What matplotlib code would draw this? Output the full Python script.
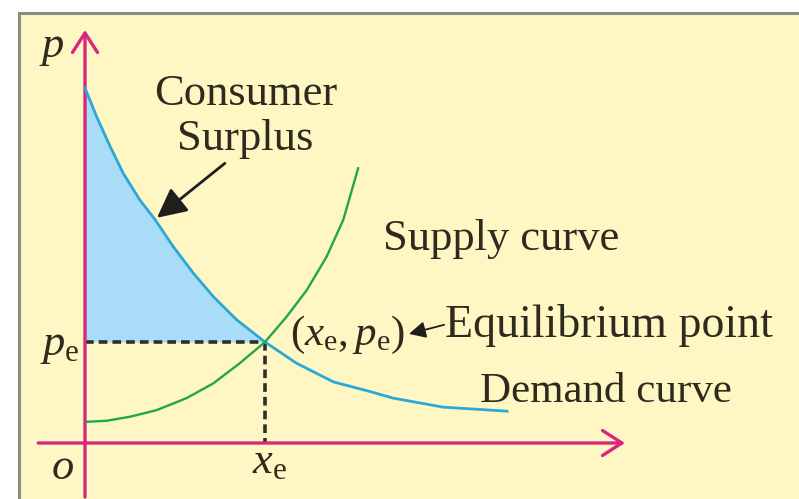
import matplotlib
matplotlib.use("Agg")
import matplotlib.pyplot as plt
from matplotlib.patches import Rectangle

plt.rcParams["font.family"] = ["Liberation Serif", "DejaVu Serif"]
plt.rcParams["mathtext.fontset"] = "custom"
plt.rcParams["mathtext.rm"] = "Liberation Serif"
plt.rcParams["mathtext.it"] = "Liberation Serif:italic"

# demand / supply curves (x = quantity, p = price)
demand_x = [0.0, 0.26, 0.56, 0.85, 1.22, 1.56, 1.96, 2.41, 2.85, 3.37, 4.0,
            4.70, 5.52, 6.33, 6.84, 7.96, 8.67, 9.38]
demand_p = [7.03, 6.46, 5.87, 5.34, 4.81, 4.42, 3.89, 3.36, 2.90, 2.44, 2.0,
            1.58, 1.21, 1.02, 0.89, 0.71, 0.67, 0.63]
supply_x = [0.04, 0.48, 1.0, 1.59, 2.26, 2.85, 3.44, 4.0, 4.48, 4.93, 5.37,
            5.74, 6.07]
supply_p = [0.42, 0.44, 0.52, 0.65, 0.89, 1.18, 1.58, 2.0, 2.50, 3.03, 3.69,
            4.42, 5.44]
x_e = 4.0
p_e = 2.0

bg = "#fef7c4"
ink = "#2e2b1e"
axis_col = "#d8287e"
blue = "#2aa8d8"
green = "#22a64c"

fig = plt.figure(figsize=(7.99, 4.99), dpi=100, facecolor="white")

ax = fig.add_axes([0, 0, 1, 1])
ax.set_xlim(-85 / 45, 714 / 45)
ax.set_ylim(-56 / 50.5, 443 / 50.5)
ax.axis("off")

# yellow panel with grey frame (right/bottom run off the image)
ax.add_patch(Rectangle((19 / 799, -0.05), 1.1, 1.05 - 13 / 499,
                       transform=fig.transFigure, facecolor=bg,
                       edgecolor="#8c8c82", lw=2.2, zorder=0, clip_on=False))

# axes with open arrow heads
arrow = dict(arrowstyle="->,head_length=0.7,head_width=0.45", color=axis_col,
             lw=2.4, mutation_scale=20, shrinkA=0, shrinkB=0)
ax.annotate("", xy=(0, 8.18), xytext=(0, -1.07), arrowprops=arrow)
ax.annotate("", xy=(12.0, 0), xytext=(-1.04, 0), arrowprops=arrow)

# consumer surplus area
n = demand_x.index(x_e) + 1
ax.fill_between(demand_x[:n], demand_p[:n], p_e, color="#a9dcf6", lw=0, zorder=1)

ax.plot(demand_x, demand_p, color=blue, lw=2.0, zorder=3, solid_joinstyle="round")
ax.plot(supply_x, supply_p, color=green, lw=1.7, zorder=3, solid_joinstyle="round")

ax.plot([0, x_e], [p_e, p_e], color="#2b2f2f", lw=2.6, dashes=(2.4, 1.4), zorder=2)
ax.plot([x_e, x_e], [p_e, 0], color="#2b2f2f", lw=2.6, dashes=(2.4, 1.4), zorder=2)

fs = 32
ax.text(-0.73, 7.82, r"$p$", fontsize=fs, color=ink, ha="center", va="center")
ax.text(3.58, 6.69, "Consumer", fontsize=fs, color=ink, ha="center", va="baseline")
ax.text(3.56, 5.80, "Surplus", fontsize=fs, color=ink, ha="center", va="baseline")
ax.annotate("", xy=(1.6, 4.46), xytext=(3.11, 5.54),
            arrowprops=dict(arrowstyle="-|>,head_length=0.9,head_width=0.45",
                            color="#1e1e1e", lw=2.0, mutation_scale=20,
                            shrinkA=0, shrinkB=0))
ax.text(6.62, 3.82, "Supply curve", fontsize=fs, color=ink, va="baseline")
ax.text(4.56, 1.94, r"$(x_{\mathrm{e}}, p_{\mathrm{e}})$", fontsize=fs - 1, color=ink,
        va="baseline")
ax.annotate("", xy=(7.2, 2.16), xytext=(7.98, 2.34),
            arrowprops=dict(arrowstyle="-|>,head_length=0.5,head_width=0.25",
                            color="#1e1e1e", lw=1.3, mutation_scale=20,
                            shrinkA=0, shrinkB=0))
ax.text(8.0, 2.10, "Equilibrium point", fontsize=fs + 1, color=ink, va="baseline")
ax.text(8.78, 0.81, "Demand curve", fontsize=fs - 1, color=ink, va="baseline")
ax.text(-1.0, 1.74, r"$p_{\mathrm{e}}$", fontsize=fs, color=ink, va="baseline")
ax.text(-0.51, -0.50, r"$o$", fontsize=fs, color=ink, ha="center", va="center")
ax.text(3.71, -0.59, r"$x_{\mathrm{e}}$", fontsize=fs, color=ink, va="baseline")

fig.savefig("out.png", dpi=100, facecolor="white")
